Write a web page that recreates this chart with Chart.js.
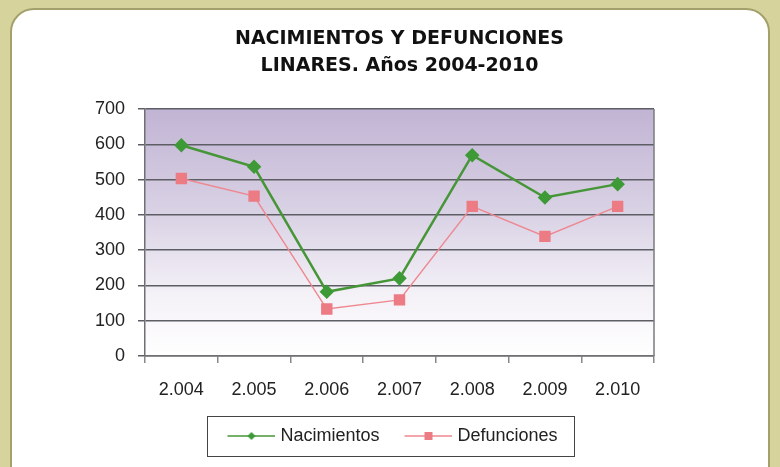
<!DOCTYPE html>
<html>
<head>
<meta charset="utf-8">
<script src="https://cdn.jsdelivr.net/npm/chart.js@4.4.1/dist/chart.umd.min.js"></script>
<style>
    html, body { margin: 0; padding: 0; width: 780px; height: 467px; overflow: hidden; background: #d6d39c; }
    #panel { position: absolute; left: 10px; top: 8px; width: 760px; height: 490px; background: #fff;
             border: 2px solid #a3a06b; border-radius: 24px; box-sizing: border-box; }
    #wrap { position: absolute; left: 0; top: 0; width: 780px; height: 467px; }
</style>
</head>
<body>
<div id="panel"></div>
<div id="wrap"><canvas id="chart" width="780" height="467"></canvas></div>
<script>
// Chart data
const years = ['2.004', '2.005', '2.006', '2.007', '2.008', '2.009', '2.010'];
const nacimientos = [597, 536, 182, 220, 569, 449, 487];
const defunciones = [503, 453, 133, 159, 424, 339, 424];
const titleLines = ['NACIMIENTOS Y DEFUNCIONES', 'LINARES. Años 2004-2010'];
const yMin = 0, yMax = 700, yStep = 100;

const GREEN = '#469638';
const PINK = '#ee8890';
const TICK_FONT = { family: "'Liberation Sans', Arial, sans-serif", size: 18 };

// Legend symbol: short line with the marker in the middle
function legendIcon(lineColor, fill, style) {
    const c = document.createElement('canvas');
    c.width = 68; c.height = 14;
    const g = c.getContext('2d');
    g.strokeStyle = lineColor;
    g.lineWidth = 1.5;
    g.beginPath(); g.moveTo(20, 7); g.lineTo(68, 7); g.stroke();
    g.fillStyle = fill;
    if (style === 'diamond') {
        g.beginPath(); g.moveTo(44, 3); g.lineTo(48, 7); g.lineTo(44, 11); g.lineTo(40, 7); g.closePath(); g.fill();
    } else {
        g.fillRect(40, 3, 8, 8);
    }
    return c;
}
const icons = [legendIcon(GREEN, '#3e9a36', 'diamond'), legendIcon(PINK, '#ec7b84', 'square')];

const plotDecor = {
    id: 'plotDecor',
    beforeDraw(chart) {
        const { ctx, chartArea: a } = chart;
        const grad = ctx.createLinearGradient(0, a.top, 0, a.bottom);
        grad.addColorStop(0, '#c1b4d4');
        grad.addColorStop(0.45, '#dbd4e6');
        grad.addColorStop(0.75, '#f4f1f7');
        grad.addColorStop(1, '#ffffff');
        ctx.save();
        ctx.fillStyle = grad;
        ctx.fillRect(a.left, a.top, a.right - a.left, a.bottom - a.top);
        ctx.restore();
    },
    beforeDatasetsDraw(chart) {
        const { ctx, chartArea: a } = chart;
        ctx.save();
        ctx.strokeStyle = '#7a7a80';
        ctx.lineWidth = 1.5;
        ctx.beginPath(); ctx.moveTo(a.right, a.top); ctx.lineTo(a.right, a.bottom); ctx.stroke();
        ctx.restore();
    },
    afterLayout(chart) {
        // legend block sits a little left of the plot centre
        chart.legend.left -= 15;
        chart.legend.right -= 15;
    },
    afterDraw(chart) {
        const boxes = chart.legend.legendHitBoxes;
        if (!boxes || !boxes.length) return;
        const first = boxes[0], last = boxes[boxes.length - 1];
        const cy = first.top + first.height / 2;
        const { ctx } = chart;
        ctx.save();
        ctx.strokeStyle = '#444';
        ctx.lineWidth = 1;
        ctx.strokeRect(Math.round(first.left - 4) + 0.5, Math.round(cy - 20) + 0.5,
                       Math.round(last.left + last.width + 17 - first.left + 4), 40);
        ctx.restore();
    }
};

new Chart(document.getElementById('chart'), {
    type: 'line',
    data: {
        labels: years,
        datasets: [{
            label: 'Nacimientos',
            data: nacimientos,
            borderColor: GREEN,
            borderWidth: 2.5,
            pointStyle: 'rectRot',
            pointRadius: 5.5,
            pointBackgroundColor: '#3e9a36',
            pointBorderColor: '#3e9a36',
            tension: 0
        }, {
            label: 'Defunciones',
            data: defunciones,
            borderColor: PINK,
            borderWidth: 1.5,
            pointStyle: 'rect',
            pointRadius: 7,
            pointBackgroundColor: '#ec7b84',
            pointBorderColor: '#ec7b84',
            tension: 0
        }]
    },
    options: {
        responsive: false,
        animation: false,
        layout: { padding: { left: 10, right: 126, top: 25, bottom: 12 } },
        plugins: {
            title: {
                display: true,
                fullSize: false,
                text: titleLines,
                color: '#111',
                font: { family: "'DejaVu Sans', sans-serif", weight: 'bold', size: 19, lineHeight: 1.42 },
                padding: { top: 1, bottom: 29 }
            },
            legend: {
                position: 'bottom',
                fullSize: false,
                labels: {
                    usePointStyle: true,
                    pointStyleWidth: 60,
                    boxHeight: 14,
                    padding: 9,
                    color: '#222',
                    font: TICK_FONT,
                    generateLabels(chart) {
                        return chart.data.datasets.map((ds, i) => ({
                            text: ds.label,
                            pointStyle: icons[i],
                            fillStyle: ds.borderColor,
                            strokeStyle: ds.borderColor,
                            fontColor: '#222',
                            lineWidth: 0,
                            hidden: false,
                            datasetIndex: i
                        }));
                    }
                }
            },
            tooltip: { enabled: false }
        },
        scales: {
            x: {
                offset: true,
                grid: { offset: true, drawOnChartArea: false, drawTicks: true, tickLength: 7, color: '#888', lineWidth: 1.5 },
                border: { color: '#6f6f75', width: 1.5 },
                ticks: { color: '#222', font: TICK_FONT, padding: 16, maxRotation: 0 },
                afterFit(scale) { scale.height = 62; }
            },
            y: {
                min: yMin,
                max: yMax,
                grid: { color: '#5d5d64', lineWidth: 1.5, tickLength: 7 },
                border: { color: '#6f6f75', width: 1.5 },
                ticks: { stepSize: yStep, color: '#222', font: TICK_FONT, padding: 13 },
                afterFit(scale) { scale.width = 135; }
            }
        }
    },
    plugins: [plotDecor]
});
</script>
</body>
</html>
